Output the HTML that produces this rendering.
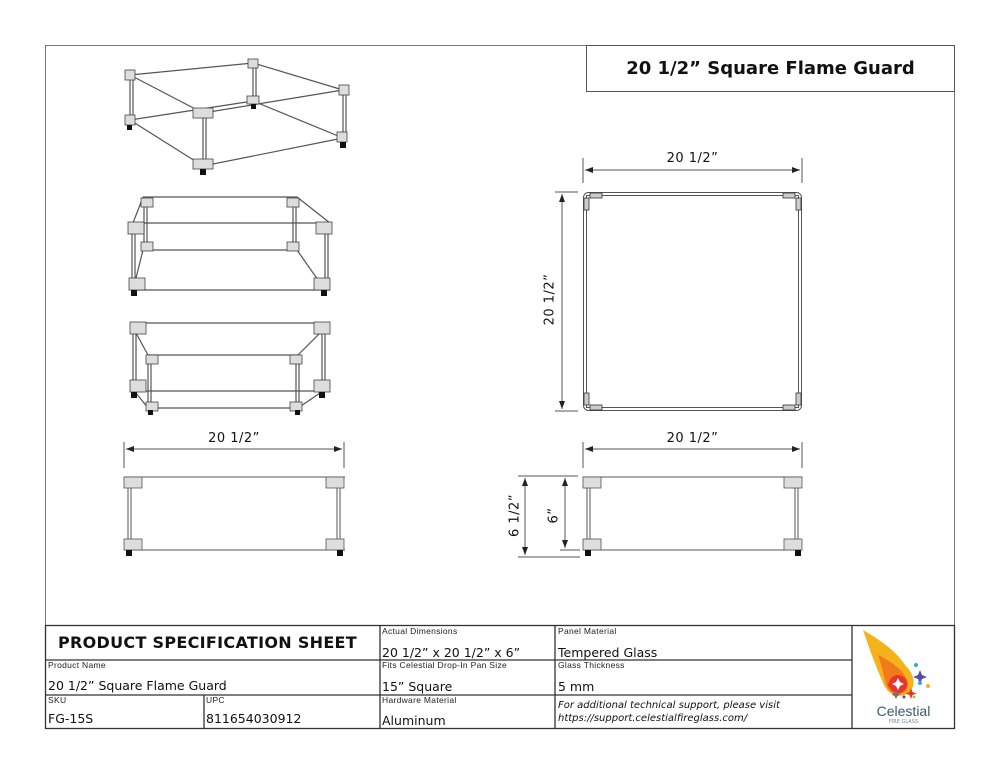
<!DOCTYPE html>
<html><head><meta charset="utf-8"><style>
html,body{margin:0;padding:0;background:#fff;}
body{width:1000px;height:773px;overflow:hidden;position:relative;font-family:"DejaVu Sans","Liberation Sans",sans-serif;}
svg{position:absolute;left:0;top:0;}
.t{position:absolute;white-space:nowrap;color:#111;}
.s{font-size:8.5px;color:#222;font-family:"Liberation Sans",sans-serif;letter-spacing:0.3px;}
.v{font-size:12.5px;}
.d{font-size:13px;text-align:center;letter-spacing:0.5px;}
</style></head><body>
<svg width="1000" height="773" viewBox="0 0 1000 773" xmlns="http://www.w3.org/2000/svg">
<defs>
<marker id="a" markerWidth="8" markerHeight="6" refX="8" refY="3" orient="auto-start-reverse"><path d="M0,0 L8,3 L0,6 z" fill="#222"/></marker>
</defs>
<rect x="45.5" y="45.5" width="909" height="683" fill="none" stroke="#777" stroke-width="1"/>
<rect x="586.5" y="45.5" width="368" height="46" fill="#fff" stroke="#555" stroke-width="1"/>
<g stroke="#333" stroke-width="1.3" fill="none">
<rect x="45.5" y="625.5" width="909" height="103"/>
<line x1="45" y1="660" x2="852" y2="660"/>
<line x1="45" y1="695" x2="852" y2="695"/>
<line x1="380" y1="625" x2="380" y2="729"/>
<line x1="555" y1="625" x2="555" y2="729"/>
<line x1="852" y1="625" x2="852" y2="729"/>
<line x1="204" y1="695" x2="204" y2="729"/>
</g>
<g stroke="#555" stroke-width="1.2" fill="none">
<polyline points="130,75 253,63 343,90 203,113 130,75"/>
<polyline points="130,120 203,166 343,138"/>
<line x1="130" y1="120" x2="253" y2="101"/>
<line x1="253" y1="101" x2="343" y2="138"/>
<line x1="130" y1="75" x2="130" y2="120"/><line x1="133" y1="75" x2="133" y2="120"/>
<line x1="203" y1="113" x2="203" y2="166"/><line x1="206" y1="113" x2="206" y2="166"/>
<line x1="343" y1="90" x2="343" y2="138"/><line x1="346" y1="90" x2="346" y2="138"/>
<line x1="253" y1="63" x2="253" y2="101"/><line x1="256" y1="63" x2="256" y2="101"/>
</g>
<g fill="#ddd" stroke="#444" stroke-width="0.8">
<rect x="125" y="70" width="10" height="10"/><rect x="248" y="59" width="10" height="9"/>
<rect x="339" y="85" width="10" height="10"/><rect x="193" y="108" width="20" height="10"/>
<rect x="125" y="115" width="10" height="10"/><rect x="247" y="96" width="12" height="8"/>
<rect x="337" y="132" width="10" height="10"/><rect x="193" y="159" width="20" height="10"/>
</g>
<g fill="#111"><rect x="200" y="169" width="6" height="6"/><rect x="340" y="142" width="6" height="6"/><rect x="127" y="125" width="5" height="5"/><rect x="251" y="104" width="5" height="5"/></g>
<g stroke="#555" stroke-width="1.2" fill="none">
<line x1="143" y1="197" x2="297" y2="197"/>
<line x1="133" y1="223" x2="330" y2="223"/>
<line x1="143" y1="250" x2="297" y2="250"/>
<line x1="133" y1="290" x2="330" y2="290"/>
<line x1="143" y1="197" x2="133" y2="223"/><line x1="297" y1="197" x2="330" y2="223"/>
<line x1="143" y1="250" x2="133" y2="290"/><line x1="297" y1="250" x2="325" y2="290"/>
<line x1="132" y1="228" x2="132" y2="285"/><line x1="135" y1="228" x2="135" y2="285"/>
<line x1="325" y1="228" x2="325" y2="285"/><line x1="328" y1="228" x2="328" y2="285"/>
<line x1="144" y1="202" x2="144" y2="250"/><line x1="147" y1="202" x2="147" y2="250"/>
<line x1="293" y1="202" x2="293" y2="250"/><line x1="296" y1="202" x2="296" y2="250"/>
</g>
<g fill="#ddd" stroke="#444" stroke-width="0.8">
<rect x="128" y="222" width="16" height="12"/><rect x="316" y="222" width="16" height="12"/>
<rect x="129" y="278" width="16" height="12"/><rect x="314" y="278" width="16" height="12"/>
<rect x="141" y="198" width="12" height="9"/><rect x="287" y="198" width="12" height="9"/>
<rect x="141" y="242" width="12" height="9"/><rect x="287" y="242" width="12" height="9"/>
</g>
<g fill="#111"><rect x="131" y="290" width="6" height="6"/><rect x="321" y="290" width="6" height="6"/></g>
<g stroke="#555" stroke-width="1.2" fill="none">
<line x1="131" y1="323" x2="327" y2="323"/>
<line x1="148" y1="355" x2="298" y2="355"/>
<line x1="134" y1="391" x2="325" y2="391"/>
<line x1="148" y1="408" x2="298" y2="408"/>
<line x1="136" y1="333" x2="148" y2="355"/><line x1="320" y1="333" x2="298" y2="355"/>
<line x1="136" y1="393" x2="148" y2="408"/><line x1="320" y1="393" x2="298" y2="408"/>
<line x1="133" y1="333" x2="133" y2="380"/><line x1="136" y1="333" x2="136" y2="380"/>
<line x1="322" y1="333" x2="322" y2="380"/><line x1="325" y1="333" x2="325" y2="380"/>
<line x1="148" y1="358" x2="148" y2="405"/><line x1="151" y1="358" x2="151" y2="405"/>
<line x1="296" y1="358" x2="296" y2="405"/><line x1="299" y1="358" x2="299" y2="405"/>
</g>
<g fill="#ddd" stroke="#444" stroke-width="0.8">
<rect x="130" y="322" width="16" height="12"/><rect x="314" y="322" width="16" height="12"/>
<rect x="130" y="380" width="16" height="12"/><rect x="314" y="380" width="16" height="12"/>
<rect x="146" y="355" width="12" height="9"/><rect x="290" y="355" width="12" height="9"/>
<rect x="146" y="402" width="12" height="9"/><rect x="290" y="402" width="12" height="9"/>
</g>
<g fill="#111"><rect x="131" y="392" width="6" height="6"/><rect x="319" y="392" width="6" height="6"/><rect x="148" y="410" width="5" height="5"/><rect x="295" y="410" width="5" height="5"/></g>
<g stroke="#555" stroke-width="1" fill="none">
<line x1="124" y1="442" x2="124" y2="468"/><line x1="344" y1="442" x2="344" y2="468"/>
<line x1="126" y1="449" x2="342" y2="449" marker-start="url(#a)" marker-end="url(#a)"/>
<line x1="124" y1="477" x2="345" y2="477"/><line x1="124" y1="550" x2="345" y2="550"/>
<line x1="128" y1="488" x2="128" y2="539"/><line x1="131" y1="488" x2="131" y2="539"/>
<line x1="337" y1="488" x2="337" y2="539"/><line x1="340" y1="488" x2="340" y2="539"/>
</g>
<g fill="#ddd" stroke="#555" stroke-width="0.8">
<rect x="124" y="477" width="18" height="11"/><rect x="326" y="477" width="18" height="11"/>
<rect x="124" y="539" width="18" height="11"/><rect x="326" y="539" width="18" height="11"/>
</g>
<g fill="#111"><rect x="126" y="550" width="6" height="6"/><rect x="337" y="550" width="6" height="6"/></g>
<g stroke="#555" stroke-width="1" fill="none">
<line x1="583" y1="158" x2="583" y2="183"/><line x1="802" y1="158" x2="802" y2="183"/>
<line x1="585" y1="170" x2="800" y2="170" marker-start="url(#a)" marker-end="url(#a)"/>
<line x1="555" y1="192" x2="578" y2="192"/><line x1="555" y1="411" x2="578" y2="411"/>
<line x1="562" y1="194" x2="562" y2="409" marker-start="url(#a)" marker-end="url(#a)"/>
<rect x="583.5" y="192.5" width="218" height="218" rx="5"/>
<rect x="586.5" y="195.5" width="212" height="212"/>
</g>
<g fill="#ccc" stroke="#333" stroke-width="0.8">
<rect x="590" y="193" width="12" height="5"/><rect x="584" y="198" width="5" height="12"/>
<rect x="783" y="193" width="12" height="5"/><rect x="796" y="198" width="5" height="12"/>
<rect x="590" y="405" width="12" height="5"/><rect x="584" y="393" width="5" height="12"/>
<rect x="783" y="405" width="12" height="5"/><rect x="796" y="393" width="5" height="12"/>
</g>
<g stroke="#555" stroke-width="1" fill="none">
<line x1="583" y1="442" x2="583" y2="468"/><line x1="802" y1="442" x2="802" y2="468"/>
<line x1="585" y1="449" x2="800" y2="449" marker-start="url(#a)" marker-end="url(#a)"/>
<line x1="583" y1="477" x2="802" y2="477"/><line x1="583" y1="550" x2="802" y2="550"/>
<line x1="587" y1="488" x2="587" y2="539"/><line x1="590" y1="488" x2="590" y2="539"/>
<line x1="795" y1="488" x2="795" y2="539"/><line x1="798" y1="488" x2="798" y2="539"/>
<line x1="518" y1="476" x2="578" y2="476"/><line x1="518" y1="557" x2="580" y2="557"/>
<line x1="560" y1="550" x2="580" y2="550"/>
<line x1="525" y1="478" x2="525" y2="555" marker-start="url(#a)" marker-end="url(#a)"/>
<line x1="565" y1="478" x2="565" y2="548" marker-start="url(#a)" marker-end="url(#a)"/>
</g>
<g fill="#ddd" stroke="#555" stroke-width="0.8">
<rect x="583" y="477" width="18" height="11"/><rect x="784" y="477" width="18" height="11"/>
<rect x="583" y="539" width="18" height="11"/><rect x="784" y="539" width="18" height="11"/>
</g>
<g fill="#111"><rect x="585" y="550" width="6" height="6"/><rect x="795" y="550" width="6" height="6"/></g>
<path d="M863,630 C880,640 895,650 905,665 C915,675 918,688 905,695 C892,698 885,690 882,680 C875,665 870,650 863,630 Z" fill="#f6b21a"/>
<path d="M878,655 C893,662 905,672 908,682 C910,692 900,697 892,693 C885,688 885,675 878,655 Z" fill="#f07a1c"/>
<circle cx="898" cy="684" r="9" fill="#e8352a"/>
<path d="M898,678 l2,4 4,2 -4,2 -2,4 -2,-4 -4,-2 4,-2z" fill="#fff"/>
<path d="M920,670 l2,5 5,2 -5,2 -2,5 -2,-5 -5,-2 5,-2z" fill="#5a4aa8"/>
<path d="M911,688 l1.5,4 4,1.5 -4,1.5 -1.5,4 -1.5,-4 -4,-1.5 4,-1.5z" fill="#e8352a"/>
<path d="M896,690 l1.5,3 3,1.5 -3,1.5 -1.5,3 -1.5,-3 -3,-1.5 3,-1.5z" fill="#8a6a5a"/>
<circle cx="916" cy="665" r="2" fill="#2bb3c6"/><circle cx="920" cy="683" r="2" fill="#2bb3c6"/>
<circle cx="928" cy="686" r="2" fill="#f6b21a"/><circle cx="914" cy="697" r="1.5" fill="#9c3"/>
<circle cx="889" cy="685" r="1.5" fill="#e8352a"/><circle cx="904" cy="697" r="1.5" fill="#5a4aa8"/>
</svg>
<div class="t" style="left:586px;top:58px;width:369px;text-align:center;font-size:18px;font-weight:bold;">20 1/2” Square Flame Guard</div>
<div class="t d" style="left:124px;top:431px;width:220px;">20 1/2”</div>
<div class="t d" style="left:583px;top:151px;width:219px;">20 1/2”</div>
<div class="t d" style="left:583px;top:431px;width:219px;">20 1/2”</div>
<div class="t d" style="left:490px;top:292px;width:120px;transform:rotate(-90deg);">20 1/2”</div>
<div class="t d" style="left:475px;top:508px;width:80px;transform:rotate(-90deg);">6 1/2”</div>
<div class="t d" style="left:514px;top:508px;width:80px;transform:rotate(-90deg);">6”</div>
<div class="t" style="left:58px;top:633px;font-size:16px;font-weight:bold;letter-spacing:0.3px;">PRODUCT SPECIFICATION SHEET</div>
<div class="t s" style="left:382px;top:626px;">Actual Dimensions</div>
<div class="t v" style="left:382px;top:645px;">20 1/2” x 20 1/2” x 6”</div>
<div class="t s" style="left:558px;top:626px;">Panel Material</div>
<div class="t v" style="left:558px;top:645px;">Tempered Glass</div>
<div class="t s" style="left:48px;top:660px;">Product Name</div>
<div class="t v" style="left:48px;top:678px;">20 1/2” Square Flame Guard</div>
<div class="t s" style="left:382px;top:660px;">Fits Celestial Drop-In Pan Size</div>
<div class="t v" style="left:382px;top:679px;">15” Square</div>
<div class="t s" style="left:558px;top:660px;">Glass Thickness</div>
<div class="t v" style="left:558px;top:679px;">5 mm</div>
<div class="t s" style="left:48px;top:695px;">SKU</div>
<div class="t v" style="left:48px;top:711px;">FG-15S</div>
<div class="t s" style="left:206px;top:695px;">UPC</div>
<div class="t v" style="left:206px;top:711px;">811654030912</div>
<div class="t s" style="left:382px;top:695px;">Hardware Material</div>
<div class="t v" style="left:382px;top:713px;">Aluminum</div>
<div class="t" style="left:558px;top:699px;font-size:10px;font-style:italic;line-height:13px;">For additional technical support, please visit<br>https://support.celestialfireglass.com/</div>
<div class="t" style="left:852px;top:703px;width:103px;text-align:center;font-size:14px;color:#3c5a6a;font-family:'Liberation Sans',sans-serif;">Celestial</div>
<div class="t" style="left:852px;top:719px;width:103px;text-align:center;font-size:5px;color:#6a8aa0;">FIRE GLASS</div>
</body></html>
